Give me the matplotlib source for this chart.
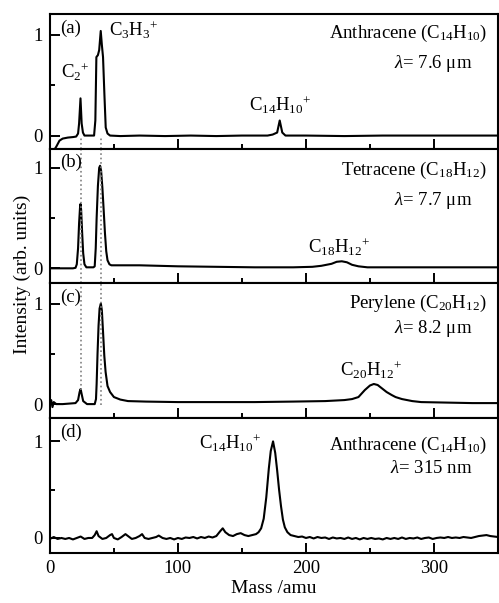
import matplotlib
matplotlib.use('Agg')
import matplotlib.pyplot as plt

plt.rcParams['font.family'] = ['Liberation Serif', 'DejaVu Serif']
plt.rcParams['mathtext.fontset'] = 'custom'
plt.rcParams['mathtext.rm'] = 'Liberation Serif'
plt.rcParams['mathtext.it'] = 'Liberation Serif:italic'

# Spectra (mass in amu, normalised intensity)
a_mass = [4, 5, 7.5, 10, 14, 18, 20.5, 22, 22.8, 23.9, 24.8, 25.8, 27, 30, 34.5, 35.5, 36.3,
          37.5, 38.5, 39.7, 40.6, 41.5, 42.6, 43.6, 45, 47, 55, 70, 90, 110, 130, 150, 170,
          174, 177.5, 179.5, 181.5, 184, 200, 230, 260, 290, 320, 350]
a_int = [-0.13, -0.11, -0.05, -0.03, -0.02, -0.015, -0.01, 0.02, 0.12, 0.37, 0.12, 0.03, 0.0,
         0.0, 0.0, 0.15, 0.78, 0.8, 0.85, 1.04, 0.9, 0.78, 0.4, 0.08, 0.02, 0.0, -0.005, 0.0,
         -0.005, 0.0, -0.005, 0.0, 0.0, 0.01, 0.03, 0.15, 0.03, 0.0, 0.0, -0.005, 0.0, 0.0,
         0.0, 0.0]

b_mass = [0, 10, 18, 20, 21, 22, 22.8, 23.5, 23.9, 24.4, 25.2, 26, 27, 28.5, 34, 35, 35.8,
          36.5, 37.5, 38.5, 39.2, 40, 41, 42, 43, 44, 45, 46.5, 48, 55, 70, 100, 130, 160,
          190, 205, 212, 220, 224, 228, 232, 236, 241, 248, 260, 290, 320, 350]
b_int = [0.0, 0.0, 0.0, 0.005, 0.04, 0.2, 0.45, 0.6, 0.64, 0.58, 0.35, 0.15, 0.04, 0.01,
         0.01, 0.02, 0.2, 0.5, 0.82, 1.0, 1.02, 0.97, 0.8, 0.58, 0.35, 0.17, 0.08, 0.04, 0.03,
         0.03, 0.03, 0.02, 0.015, 0.01, 0.01, 0.015, 0.025, 0.045, 0.065, 0.07, 0.06, 0.035,
         0.02, 0.01, 0.01, 0.01, 0.01, 0.01]

c_mass = [0, 1, 2, 3, 5, 10, 20, 22, 23.2, 24, 24.8, 26, 29, 35, 36, 36.5, 37.2, 38, 38.8,
          39.8, 40.6, 41.5, 42.5, 43.5, 45, 47, 50, 55, 61, 75, 100, 130, 160, 190, 215, 230,
          236, 241, 246, 250, 253, 256, 259, 263, 267, 270, 275, 283, 290, 310, 330, 350]
c_int = [0.0, 0.04, -0.03, 0.02, 0.0, 0.0, 0.01, 0.04, 0.12, 0.15, 0.1, 0.03, 0.0, 0.0, 0.05,
         0.2, 0.5, 0.78, 0.95, 1.0, 0.93, 0.72, 0.48, 0.32, 0.18, 0.12, 0.07, 0.045, 0.03,
         0.025, 0.02, 0.02, 0.02, 0.025, 0.03, 0.04, 0.05, 0.07, 0.14, 0.185, 0.2, 0.19, 0.16,
         0.12, 0.09, 0.07, 0.05, 0.03, 0.02, 0.015, 0.01, 0.01]

d_mass = [0, 3, 6, 9, 12, 15, 18, 21, 24, 27, 30, 33, 35, 36.5, 38, 41, 44, 47, 48.5, 50, 53,
          56, 59, 61, 64, 67, 70, 72, 74, 77, 80, 83, 85, 88, 91, 94, 97, 100, 103, 106, 109,
          112, 115, 118, 121, 124, 127, 130, 133, 135, 137, 140, 143, 146, 149, 152, 155, 158,
          161, 163, 165, 167, 169, 171, 172.5, 174.3, 176, 177.5, 179, 180.5, 182, 183.5,
          185.5, 188, 191, 194, 197, 200, 203, 206, 209, 212, 215, 218, 221, 224, 227, 230,
          233, 236, 239, 242, 245, 248, 251, 254, 257, 260, 263, 266, 269, 272, 275, 278, 281,
          284, 287, 290, 293, 296, 299, 302, 305, 308, 311, 314, 317, 320, 323, 326, 329, 332,
          335, 338, 341, 344, 347, 350]
d_int = [-0.01, 0.01, -0.01, 0.0, -0.01, 0.0, -0.015, 0.0, 0.015, -0.01, 0.0, 0.0, 0.03,
         0.07, 0.02, -0.01, 0.0, 0.03, 0.04, 0.0, -0.015, 0.01, 0.04, 0.02, -0.01, 0.0, 0.02,
         0.04, 0.0, -0.01, 0.0, 0.01, 0.025, 0.0, -0.01, 0.0, -0.015, 0.0, -0.01, 0.005, 0.0,
         0.01, -0.005, 0.01, 0.0, 0.015, 0.005, 0.02, 0.07, 0.1, 0.06, 0.03, 0.02, 0.04, 0.05,
         0.03, 0.02, 0.03, 0.04, 0.06, 0.1, 0.2, 0.42, 0.72, 0.9, 1.0, 0.88, 0.7, 0.5, 0.33,
         0.19, 0.11, 0.06, 0.03, 0.02, 0.01, 0.015, 0.0, 0.01, -0.005, 0.01, 0.0, 0.005, -0.01,
         0.005, -0.005, 0.0, -0.01, 0.005, -0.01, 0.0, -0.015, 0.0, -0.01, 0.0, -0.01, -0.005,
         -0.015, 0.0, -0.01, 0.0, -0.01, 0.005, -0.01, 0.0, -0.005, 0.005, -0.01, 0.0, 0.005,
         -0.01, 0.0, 0.005, 0.0, 0.01, 0.0, 0.005, 0.0, 0.01, 0.005, 0.0, 0.01, 0.02, 0.025,
         0.03, 0.02, 0.015, 0.01]

panel_tags = ['(a)', '(b)', '(c)', '(d)']
molecules = [r'Anthracene (C$_{14}$H$_{10}$)', r'Tetracene (C$_{18}$H$_{12}$)',
             r'Perylene (C$_{20}$H$_{12}$)', r'Anthracene (C$_{14}$H$_{10}$)']
wavelengths = [r'$\lambda$= 7.6 μm', r'$\lambda$= 7.7 μm', r'$\lambda$= 8.2 μm', r'$\lambda$= 315 nm']
ylims = [(-0.13, 1.21), (-0.15, 1.19), (-0.14, 1.2), (-0.155, 1.24)]
ref_masses = [24, 39.6]  # C2+ and C3H3+ guide lines

fig, axes = plt.subplots(4, 1, sharex=True, figsize=(4.99, 6.03), dpi=100,
                         gridspec_kw={'hspace': 0})
fig.subplots_adjust(left=0.1, right=0.998, top=0.977, bottom=0.083)

spectra = [(a_mass, a_int), (b_mass, b_int), (c_mass, c_int), (d_mass, d_int)]
mol_y = [0.858, 0.837, 0.852, 0.80]
lam_y = [0.634, 0.615, 0.667, 0.63]

for i, ax in enumerate(axes):
    x, y = spectra[i]
    ax.plot(x, y, color='black', lw=1.5)
    ax.set_ylim(*ylims[i])
    ax.set_xlim(0, 350)
    ax.set_yticks([0, 1])
    ax.set_yticks([0.5], minor=True)
    ax.set_xticks([0, 100, 200, 300])
    ax.set_xticks([50, 150, 250, 350], minor=True)
    ax.tick_params(which='both', direction='in', width=1.4, labelsize=13.5, pad=5,
                   top=False, right=False)
    ax.tick_params(which='major', length=7)
    ax.tick_params(which='minor', length=3.5)
    for s in ax.spines.values():
        s.set_linewidth(1.5)
    ax.text(0.022, 0.895, panel_tags[i], transform=ax.transAxes, fontsize=13.5,
            ha='left', va='center')
    ax.text(0.975, mol_y[i], molecules[i], transform=ax.transAxes, fontsize=13.5,
            ha='right', va='center')
    ax.text(0.942, lam_y[i], wavelengths[i], transform=ax.transAxes, fontsize=13.5,
            ha='right', va='center')

# dotted guide lines through panels (a)-(c)
for m in ref_masses:
    axes[0].axvline(m, ymin=0, ymax=0.097, color='gray', ls=':', lw=1.2)
    axes[1].axvline(m, color='gray', ls=':', lw=1.2)
axes[2].axvline(ref_masses[0], ymin=0.21, ymax=1, color='gray', ls=':', lw=1.2)
axes[2].axvline(ref_masses[1], ymin=0.1, ymax=1, color='gray', ls=':', lw=1.2)

# ion labels
axes[0].text(19.5, 0.63, r'C$_2\!{}^+$', fontsize=13.5, ha='center', va='center')
axes[0].text(46.5, 1.05, r'C$_3$H$_3\!{}^+$', fontsize=13.5, ha='left', va='center')
axes[0].text(155.5, 0.3, r'C$_{14}$H$_{10}\!{}^+$', fontsize=13.5, ha='left', va='center')
axes[1].text(225.5, 0.21, r'C$_{18}$H$_{12}\!{}^+$', fontsize=13.5, ha='center', va='center')
axes[2].text(251, 0.34, r'C$_{20}$H$_{12}\!{}^+$', fontsize=13.5, ha='center', va='center')
axes[3].text(116.5, 0.98, r'C$_{14}$H$_{10}\!{}^+$', fontsize=13.5, ha='left', va='center')

axes[3].set_xlabel('Mass /amu', fontsize=14, labelpad=2)
fig.text(0.045, 0.545, 'Intensity (arb. units)', rotation=90, fontsize=14,
         ha='center', va='center')

plt.savefig('out.png', dpi=100)
